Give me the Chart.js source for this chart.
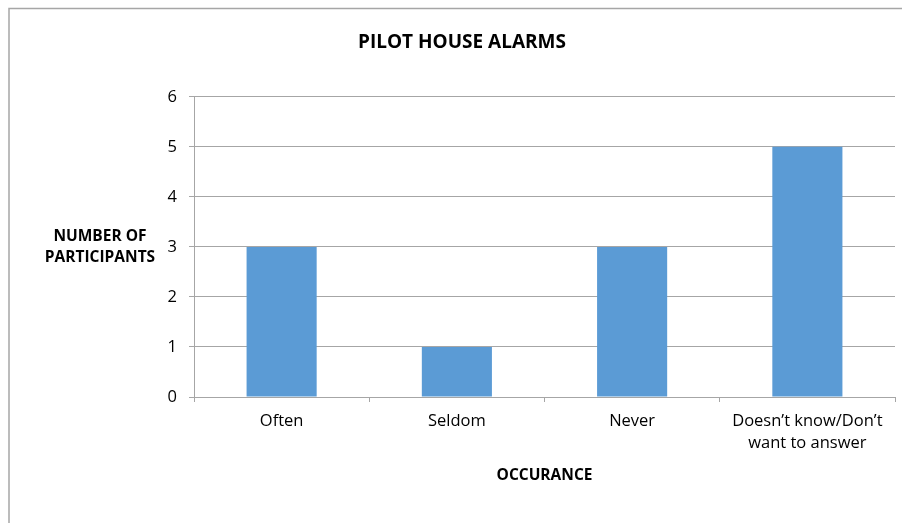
<!DOCTYPE html>
<html>
<head>
<meta charset="utf-8">
<script src="https://cdn.jsdelivr.net/npm/chart.js@4"></script>
<style>
html,body{margin:0;padding:0;background:#fff;}
#wrap{width:902px;height:523px;}
</style>
</head>
<body>
<div id="wrap"><canvas id="alarmChart" width="902" height="523"></canvas></div>
<script>
const categories = ["Often", "Seldom", "Never", ["Doesn\u2019t know/Don\u2019t", "want to answer"]];
const participants = [3, 1, 3, 5];
const yTicks = [0, 1, 2, 3, 4, 5, 6];

const FONT = "'Open Sans', sans-serif";
const GRID = "#a6a6a6";

// outer frame and the horizontal y-axis caption
const framePlugin = {
id: "frame",
beforeDraw(chart){
const ctx = chart.ctx;
ctx.save();
ctx.strokeStyle = GRID;
ctx.lineWidth = 1.5;
ctx.beginPath();
ctx.moveTo(9, 523);
ctx.lineTo(9, 8.5);
ctx.lineTo(902, 8.5);
ctx.stroke();
ctx.restore();
},
afterDraw(chart){
const ctx = chart.ctx;
ctx.save();
ctx.fillStyle = "#000";
ctx.font = "bold 15.5px " + FONT;
ctx.textAlign = "center";
ctx.textBaseline = "middle";
ctx.fillText("NUMBER OF", 100, 237);
ctx.fillText("PARTICIPANTS", 100, 258);
ctx.restore();
}
};

new Chart(document.getElementById("alarmChart"), {
type: "bar",
data: {
labels: categories,
datasets: [{
label: "Participants",
data: participants,
backgroundColor: "#5b9bd5",
categoryPercentage: 1,
barPercentage: 0.4
}]
},
options: {
responsive: false,
animation: false,
layout: { padding: { left: 29, right: 7, top: 0, bottom: 0 } },
plugins: {
legend: { display: false },
tooltip: { enabled: false },
title: {
display: true,
text: "PILOT HOUSE ALARMS",
color: "#000",
font: { family: FONT, size: 19, weight: "bold" },
padding: { top: 31, bottom: 43 }
}
},
scales: {
x: {
afterFit(scale){ scale.height = 126; },
grid: { drawOnChartArea: false, color: GRID, tickLength: 5, offset: true },
border: { color: GRID },
ticks: { color: "#000", padding: 8, maxRotation: 0, font: { family: FONT, size: 16.5, lineHeight: "22px" } },
title: {
display: true,
text: "OCCURANCE",
color: "#000",
font: { family: FONT, size: 15.5, weight: "bold" },
padding: { top: 0, bottom: 38 }
}
},
y: {
min: 0,
max: 6,
afterFit(scale){ scale.width = 165; },
afterBuildTicks(scale){ scale.ticks = yTicks.map(v => ({ value: v })); },
grid: { color: GRID, tickLength: 5 },
border: { color: GRID },
ticks: { color: "#000", padding: 12, font: { family: FONT, size: 16.5 } }
}
}
},
plugins: [framePlugin]
});
</script>
</body>
</html>
